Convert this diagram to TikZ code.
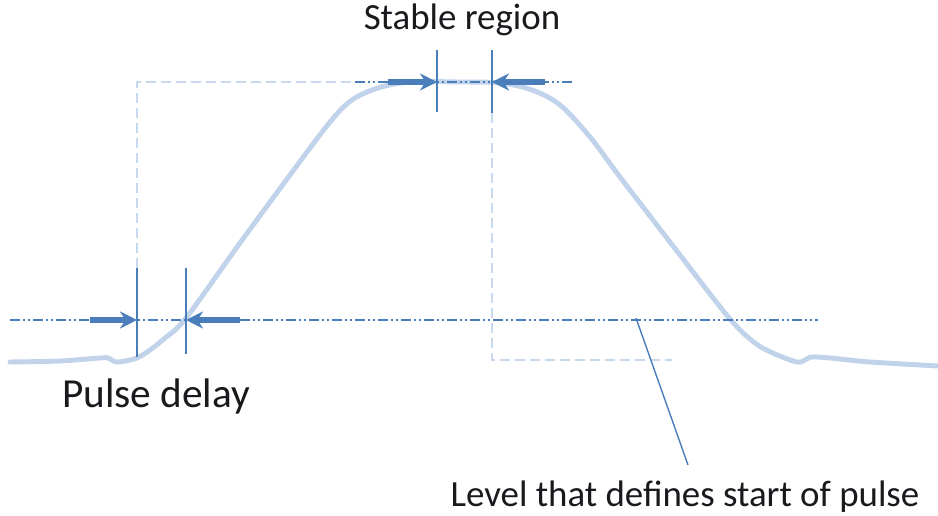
\documentclass[tikz,border=0pt]{standalone}
\usepackage{fontspec}
\setmainfont{Carlito}
\usetikzlibrary{arrows.meta,positioning}
\definecolor{pulseblue}{RGB}{74,126,187}
\definecolor{pulselight}{RGB}{192,211,234}
\definecolor{guidelight}{RGB}{200,216,237}
\definecolor{labeltext}{RGB}{25,25,30}

\begin{document}
\begin{tikzpicture}[x=0.02cm, y=-0.02cm,
  curve/.style={draw=pulselight, line width=2.8pt, line cap=round, line join=round},
  threshold/.style={draw=pulseblue, line width=1.1pt, dash pattern=on 0.2cm off 0.06cm on 0.04cm off 0.06cm on 0.04cm off 0.06cm},
  guide/.style={draw=guidelight, line width=1pt, dash pattern=on 0.2cm off 0.1cm},
  marker/.style={draw=pulseblue, line width=0.8pt},
  gap/.style={draw=pulseblue, line width=3.2pt, -{Stealth[length=3.4mm,width=3.4mm]}},
  txt/.style={font=\fontsize{21}{25}\selectfont, text=labeltext, inner sep=0pt}
]
\useasboundingbox (0,0) rectangle (938,516);

% --- Pulse ---
\draw[curve] plot[smooth, tension=0.55] coordinates {
  (10,362) (60,361) (100,358) (108,358) (116,362) (125,361) (137,358)
  (150,350) (165,338) (186,318) (240,243) (290,175) (330,122) (352,100)
  (378,88) (410,82) (460,82) (500,83) (532,90) (560,105) (590,137)
  (620,177) (680,255) (730,319) (755,343) (775,354) (797,362) (805,360)
  (812,357) (830,358) (870,362) (938,366)};

% --- Guides ---
\coordinate (gA) at (137,268);
\coordinate (gB) at (137,82);
\coordinate (gC) at (355,82);
\coordinate (gD) at (492,113);
\coordinate (gE) at (492,360);
\coordinate (gF) at (672,360);
\draw[guide] (gA) -- (gB) -- (gC);
\draw[guide] (gD) -- (gE) -- (gF);

% --- Levels ---
\coordinate (thrL) at (10,320);
\coordinate (thrR) at (818,320);
\coordinate (topL) at (355,82);
\coordinate (topR) at (572,82);
\draw[threshold] (thrL) -- (thrR);
\draw[threshold] (topL) -- (topR);

% --- Markers ---
\coordinate (d1a) at (137,268); \coordinate (d1b) at (137,357);
\coordinate (d2a) at (186,268); \coordinate (d2b) at (186,354);
\coordinate (s1a) at (437,50);  \coordinate (s1b) at (437,112);
\coordinate (s2a) at (492,50);  \coordinate (s2b) at (492,113);
\draw[marker] (d1a) -- (d1b);
\draw[marker] (d2a) -- (d2b);
\draw[marker] (s1a) -- (s1b);
\draw[marker] (s2a) -- (s2b);

% --- Arrows ---
\coordinate (a1) at (90,320);  \coordinate (a2) at (240,320);
\coordinate (a3) at (388,82);  \coordinate (a4) at (545,82);
\draw[gap] (a1) -- (d1a |- a1);
\draw[gap] (a2) -- (d2a |- a2);
\draw[gap] (a3) -- (s1a |- a3);
\draw[gap] (a4) -- (s2a |- a4);

% --- Labels ---
\node[txt] (stable) at (462,20) {Stable region};
\node[txt, font=\fontsize{23.5}{28}\selectfont] (delay) at (156,396) {Pulse delay};
\node[txt] (levellbl) at (685,497) {Level that defines start of pulse};
\coordinate (lvlpt) at (636,318);
\coordinate (lvlend) at (688,465);
\draw[marker] (lvlpt) -- (lvlend);

\end{tikzpicture}
\end{document}
